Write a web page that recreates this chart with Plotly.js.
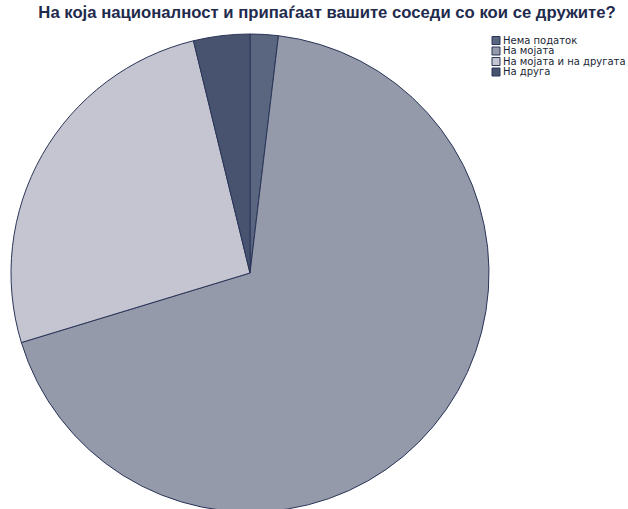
<!DOCTYPE html>
<html>
<head>
<meta charset="utf-8">
<script src="https://cdn.plot.ly/plotly-3.0.1.min.js"></script>
<style>
html,body{margin:0;padding:0;overflow:hidden;background:#fff;}
#chart{width:628px;height:520px;}
</style>
</head>
<body>
<div id="chart"></div>
<script>
var titleText = "На која националност и припаѓаат вашите соседи со кои се дружите?";
var categories = ["Нема податок", "На мојата", "На мојата и на другата", "На друга"];
var values = [1.9, 68.4, 25.9, 3.8];
var colors = ["#5a6580", "#959aaa", "#c5c5d1", "#48536f"];

var W = 628, H = 520;
var cx = 250, cy = 273, R = 239;

var trace = {
  type: "pie",
  labels: categories,
  values: values,
  sort: false,
  direction: "clockwise",
  rotation: 0,
  textinfo: "none",
  hoverinfo: "label+percent",
  marker: {colors: colors, line: {color: "#2a3558", width: 1}},
  domain: {x: [(cx - R) / W, (cx + R) / W], y: [1 - (cy + R) / H, 1 - (cy - R) / H]},
  showlegend: false
};

var shapes = [], annotations = [];
var lx = 492, ly0 = 40.5, lstep = 10.5, sq = 8;
categories.forEach(function (c, i) {
  var yc = ly0 + i * lstep;
  shapes.push({type: "rect", xref: "paper", yref: "paper",
    x0: lx / W, x1: (lx + sq) / W, y0: 1 - (yc + sq / 2) / H, y1: 1 - (yc - sq / 2) / H,
    fillcolor: colors[i], line: {color: "#2a3558", width: 1}});
  annotations.push({xref: "paper", yref: "paper", x: (lx + sq + 1.5) / W, y: 1 - yc / H,
    xanchor: "left", yanchor: "middle", showarrow: false, text: c, borderpad: 0,
    font: {family: "DejaVu Sans, Verdana, sans-serif", size: 10, color: "#1a1f33"}});
});

var layout = {
  width: W, height: H,
  margin: {l: 0, r: 0, t: 0, b: 0},
  paper_bgcolor: "#ffffff",
  title: {text: "<b>" + titleText + "</b>", x: 327 / W, xanchor: "center", y: 1 - 12 / H, yanchor: "middle",
    font: {family: "Liberation Sans, Arial, sans-serif", size: 16.7, color: "#1f2b4d"}},
  shapes: shapes,
  annotations: annotations,
  showlegend: false
};

Plotly.newPlot("chart", [trace], layout, {displayModeBar: false, staticPlot: true});
</script>
</body>
</html>
